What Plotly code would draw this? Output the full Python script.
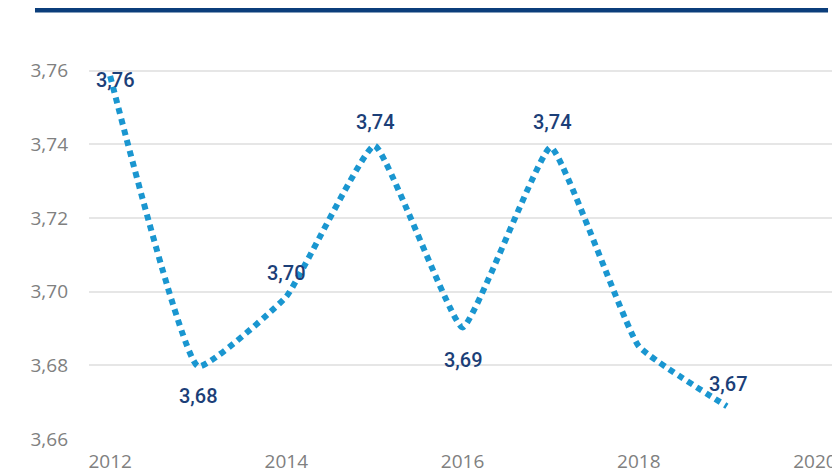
import plotly.graph_objects as go

years = [2012, 2013, 2014, 2015, 2016, 2017, 2018, 2019]
values = [3.7586, 3.6797, 3.6987, 3.7397, 3.6903, 3.7392, 3.6852, 3.6689]
label_years = [2012, 2013, 2014, 2015, 2016, 2017, 2019]
label_values = [3.7586, 3.6797, 3.6987, 3.7397, 3.6903, 3.7392, 3.6689]
label_texts = ["3,76", "3,68", "3,70", "3,74", "3,69", "3,74", "3,67"]

# label offsets in pixels (style, not data)
label_offsets = [(5, -4), (0, -30), (0, 24), (1, 24), (1, -33), (2, 25), (2, 22)]

fig = go.Figure()
fig.add_trace(go.Scatter(
    x=years, y=values, mode="lines",
    line=dict(color="#1a96d0", width=6, dash="6px,5px", shape="spline", smoothing=0.35),
    hoverinfo="skip", showlegend=False,
))

for xv, yv, t, (dx, dy) in zip(label_years, label_values, label_texts, label_offsets):
    fig.add_annotation(
        x=xv, y=yv, text=t, showarrow=False, xshift=dx, yshift=dy,
        font=dict(family="Roboto", size=20, color="#1c3f78", weight=500),
    )

fig.add_shape(
    type="line", xref="paper", yref="paper",
    x0=-0.0722, x1=0.988, y0=1.063, y1=1.063,
    line=dict(color="#0b3e7b", width=8),
)

fig.update_layout(
    width=840, height=470,
    margin=dict(l=81, r=11, t=26, b=39, autoexpand=False),
    paper_bgcolor="white", plot_bgcolor="white",
    separators=",.",
    showlegend=False,
    xaxis=dict(
        range=[2011.76, 2020.25], tickvals=[2012, 2014, 2016, 2018, 2020],
        ticktext=["2012", "2014", "2016", "2018", "2020"],
        showgrid=False, zeroline=False, showline=False, automargin=False,
        tickfont=dict(family="Open Sans", size=19, color="#808080"),
        ticklabelstandoff=9,
    ),
    yaxis=dict(
        range=[3.66, 3.77], tickvals=[3.66, 3.68, 3.70, 3.72, 3.74, 3.76],
        tickformat=".2f", automargin=False,
        showgrid=True, gridcolor="#e6e6e6", gridwidth=2, zeroline=False, showline=False,
        tickfont=dict(family="Open Sans", size=19, color="#808080"),
        ticklabelstandoff=20,
    ),
)

fig.write_html("out.html")
